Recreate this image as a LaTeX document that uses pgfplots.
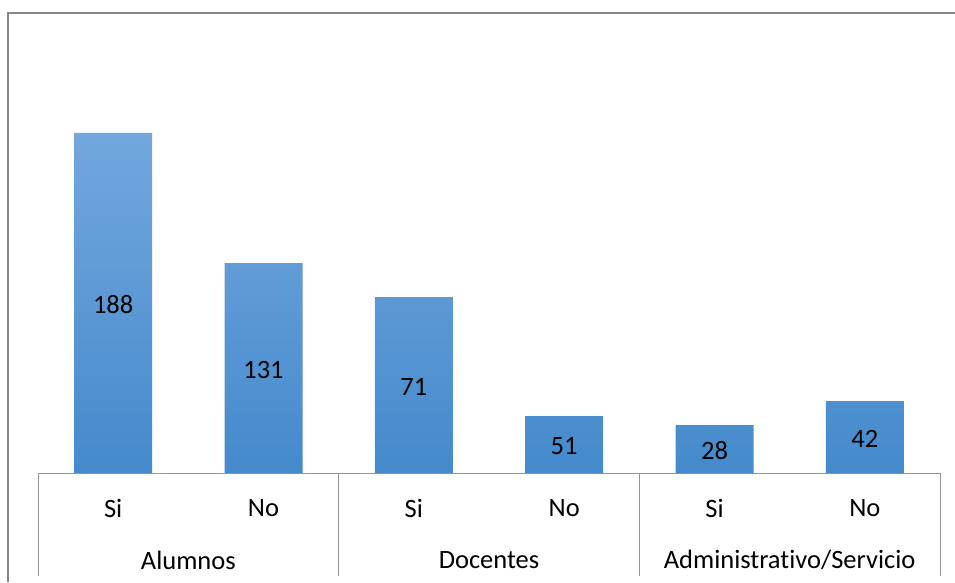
\documentclass[border=0pt]{standalone}
\usepackage{fontspec}
\setmainfont[Ligatures={NoCommon}]{Carlito}
\usepackage{pgfplots}
\usepackage{pgfplotstable}
\pgfplotsset{compat=1.18}
\definecolor{barTop}{RGB}{115,167,221}
\definecolor{barBot}{RGB}{68,138,204}
\definecolor{frameGray}{RGB}{134,134,134}
\definecolor{axGray}{RGB}{150,150,150}
\pgfplotstableread{
x y lab
0 188 188
1 116.1 131
2 97.3 71
3 31.5 51
4 26.5 28
5 39.8 42
}\data
\begin{document}
\begin{tikzpicture}[x=1pt,y=1pt]
\path[use as bounding box] (0,0) rectangle (955,582);
\draw[frameGray, line width=1.6pt] (8,0) -- (8,569) -- (956,569);
\begin{axis}[
  at={(38pt,109pt)}, anchor=south west,
  scale only axis, width=902pt, height=460pt,
  xmin=-0.5, xmax=5.5, ymin=0, ymax=254.35,
  axis y line=none, axis x line*=bottom,
  x axis line style={axGray, line width=1pt, -},
  xtick=data, xticklabels={Si,No,Si,No,Si,No},
  major tick length=0pt,
  xticklabel style={anchor=center, yshift=-35pt, font=\fontsize{26.5}{31}\selectfont},
  clip=false,
]
\addplot[ybar, bar width=78pt, draw=none, top color=barTop, bottom color=barBot,
  nodes near coords, point meta=explicit symbolic,
  visualization depends on={rawy \as \rawy},
  every node near coord/.style={anchor=center, text=black,
    font=\fontsize{26.5}{31}\selectfont, yshift=-2pt,
    shift={(axis direction cs:0,-\rawy/2)}}]
  table[x=x, y=y, meta=lab] {\data};
\foreach \xx in {-0.5,1.5,3.5,5.5}{
  \edef\temp{\noexpand\draw[axGray, line width=1pt] (axis cs:\xx,0) -- ++(0pt,-103pt);}
  \temp
}
\node[font=\fontsize{26.5}{31}\selectfont] at ([yshift=-87pt]axis cs:0.5,0) {Alumnos};
\node[font=\fontsize{26.5}{31}\selectfont] at ([yshift=-87pt]axis cs:2.5,0) {Docentes};
\node[font=\fontsize{26.5}{31}\selectfont] at ([yshift=-87pt]axis cs:4.5,0) {Administrativo/Servicio};
\end{axis}
\end{tikzpicture}
\end{document}
